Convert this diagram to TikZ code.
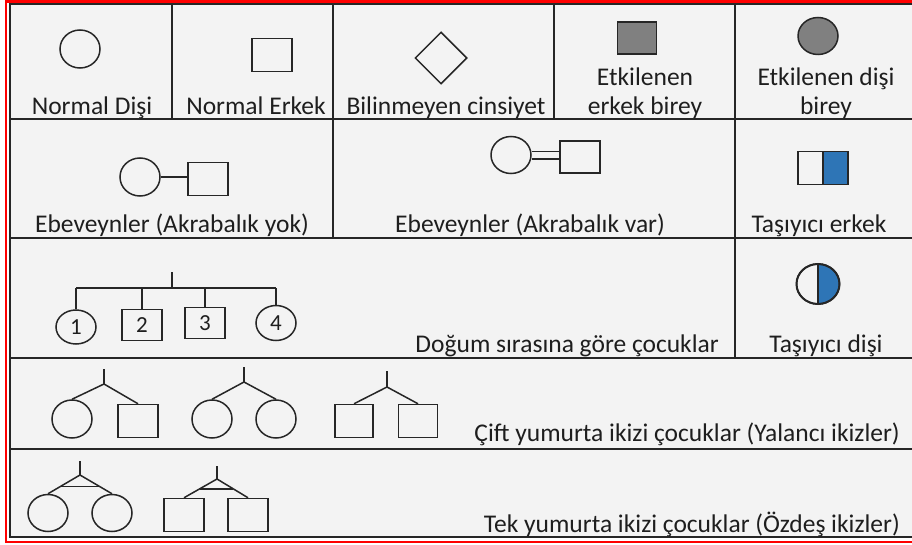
\documentclass[tikz,border=0pt]{standalone}
\usepackage{fontspec}
\setmainfont{Carlito}
\usetikzlibrary{shapes.geometric,calc}
\definecolor{bgc}{HTML}{F3F3F3}
\definecolor{txtc}{HTML}{1E1E1E}
\definecolor{affc}{HTML}{808080}
\definecolor{carc}{HTML}{2E75B6}
\newcommand{\labfont}{\fontsize{25.5}{29}\selectfont}
\tikzset{
  grid/.style={line width=1.8pt, black!85},
  sym/.style={draw=black!85, line width=1.5pt, inner sep=0pt},
  fem/.style={sym, ellipse, minimum width=40pt, minimum height=38pt},
  mal/.style={sym, rectangle, minimum width=40pt, minimum height=33pt},
  conn/.style={draw=black!85, line width=1.5pt},
  lbl/.style={font=\labfont, text=txtc, inner sep=0pt, anchor=base, align=center},
  num/.style={font=\fontsize{23}{26}\selectfont, text=txtc}
}
\begin{document}
\begin{tikzpicture}[x=1pt,y=-1pt]
\useasboundingbox (0,0) rectangle (912,545);
\clip (0,0) rectangle (912,545);
\fill[white] (0,0) rectangle (912,545);
% frames
\draw[red, line width=2.5pt] (6,1.5) rectangle (930,542);
\fill[bgc] (10,4) rectangle (925,537);
\draw[grid] (10,4) rectangle (925,537);
% grid lines
\draw[grid] (10,119) -- (925,119);
\draw[grid] (10,238) -- (925,238);
\draw[grid] (10,358) -- (925,358);
\draw[grid] (10,449) -- (925,449);
\draw[grid] (172,4) -- (172,119);
\draw[grid] (333,4) -- (333,238);
\draw[grid] (554,4) -- (554,119);
\draw[grid] (735,4) -- (735,358);

% ---------- row 1
\node[fem] (nf) at (80,49) {};
\node[mal] (nm) at (272,55) {};
\node[sym, diamond, aspect=1, minimum size=52pt] (unk) at (441,58) {};
\node[mal, fill=affc, minimum width=39pt, minimum height=32pt] (am) at (637,38) {};
\node[fem, fill=affc, minimum width=40pt, minimum height=37pt] (af) at (818,36) {};
\node[lbl] (t1) at (92,115) {Normal Dişi};
\node[lbl] (t2) at (256,115) {Normal Erkek};
\node[lbl] (t3) at (446,115) {Bilinmeyen cinsiyet};
\node[lbl] (t4) at (645,115) {Etkilenen\\erkek birey};
\node[lbl] (t5) at (826,115) {Etkilenen dişi\\birey};

% ---------- row 2
\node[fem] (p1f) at (140,177) {};
\node[mal] (p1m) at (208,179) {};
\draw[conn] (p1f.east) -- (p1f.east -| p1m.west);
\node[lbl] (t6) at (172,233) {Ebeveynler (Akrabalık yok)};

\node[fem, minimum height=37pt] (p2f) at (511,155) {};
\node[mal, minimum height=32pt] (p2m) at (580,157) {};
\draw[conn] ([yshift=3.5pt]p2f.east) -- ([yshift=3.5pt]p2f.east -| p2m.west);
\draw[conn] ([yshift=-4pt]p2f.east) -- ([yshift=-4pt]p2f.east -| p2m.west);
\node[lbl] (t7) at (530,233) {Ebeveynler (Akrabalık var)};

\node[sym, rectangle, minimum width=50pt, minimum height=33pt,
  path picture={\fill[carc] (path picture bounding box.north) rectangle (path picture bounding box.south east);
                \draw[black!85, line width=1.5pt] (path picture bounding box.north) -- (path picture bounding box.south);}] (cm) at (823,168) {};
\node[lbl] (t8) at (819,233) {Taşıyıcı erkek};

% ---------- row 3
\coordinate (s3top) at (172,272);
\coordinate (s3bar) at (172,288);
\node[fem, minimum height=34pt, num] (k1) at (76,327) {1};
\node[mal, minimum height=31pt, num] (k2) at (142,325) {2};
\node[mal, minimum height=31pt, num] (k3) at (205,323) {3};
\node[fem, minimum height=35pt, num] (k4) at (276,323) {4};
\draw[conn] (s3top) -- (s3bar);
\draw[conn] (k1.north |- s3bar) -- (k4.north |- s3bar);
\draw[conn] (k1.north |- s3bar) -- (k1.north);
\draw[conn] (k2.north |- s3bar) -- (k2.north);
\draw[conn] (k3.north |- s3bar) -- (k3.north);
\draw[conn] (k4.north |- s3bar) -- (k4.north);
\node[lbl, anchor=base east] (t9) at (719,352) {Doğum sırasına göre çocuklar};

\node[fem, minimum width=43pt, minimum height=40pt,
  path picture={\fill[carc] (path picture bounding box.north) rectangle (path picture bounding box.south east);
                \draw[black!85, line width=1.2pt] (path picture bounding box.north) -- (path picture bounding box.south);}] (cf) at (818,284) {};
\draw[black!85, line width=2pt] (cf.center) ellipse (21.5pt and 20pt);
\node[lbl] (t10) at (826,352) {Taşıyıcı dişi};

% ---------- row 4 (dizygotic)
\coordinate (d1top) at (104,369);
\coordinate (d1a) at (104,384);
\node[fem] (d1f) at (72,419) {};
\node[mal] (d1m) at (138,421) {};
\draw[conn] (d1top) -- (d1a);
\draw[conn] (d1f.north) -- (d1a) -- (d1m.north);

\coordinate (d2top) at (244,367);
\coordinate (d2a) at (244,382);
\node[fem] (d2f) at (212,419) {};
\node[fem] (d2g) at (276,419) {};
\draw[conn] (d2top) -- (d2a);
\draw[conn] (d2f.north) -- (d2a) -- (d2g.north);

\coordinate (d3top) at (387,371);
\coordinate (d3a) at (387,387);
\node[mal, minimum width=38pt] (d3m) at (354,421) {};
\node[mal, minimum width=39pt] (d3n) at (418,421) {};
\draw[conn] (d3top) -- (d3a);
\draw[conn] (d3m.north) -- (d3a) -- (d3n.north);
\node[lbl, anchor=base east] (t11) at (900,441) {Çift yumurta ikizi çocuklar (Yalancı ikizler)};

% ---------- row 5 (monozygotic)
\coordinate (m1top) at (80,461);
\coordinate (m1a) at (80,475);
\node[fem, minimum height=37pt] (m1f) at (48,513) {};
\node[fem, minimum height=37pt] (m1g) at (112,513) {};
\draw[conn] (m1top) -- (m1a);
\draw[conn] (m1f.north) -- (m1a) -- (m1g.north);
\draw[conn] ($(m1a)!0.6!(m1f.north)$) -- ($(m1a)!0.6!(m1g.north)$);

\coordinate (m2top) at (217,466);
\coordinate (m2a) at (217,479);
\node[mal] (m2m) at (184,515) {};
\node[mal] (m2n) at (248,515) {};
\draw[conn] (m2top) -- (m2a);
\draw[conn] (m2m.north) -- (m2a) -- (m2n.north);
\draw[conn] ($(m2a)!0.53!(m2m.north)$) -- ($(m2a)!0.53!(m2n.north)$);
\node[lbl, anchor=base east] (t12) at (900,532) {Tek yumurta ikizi çocuklar (Özdeş ikizler)};
\end{tikzpicture}
\end{document}
